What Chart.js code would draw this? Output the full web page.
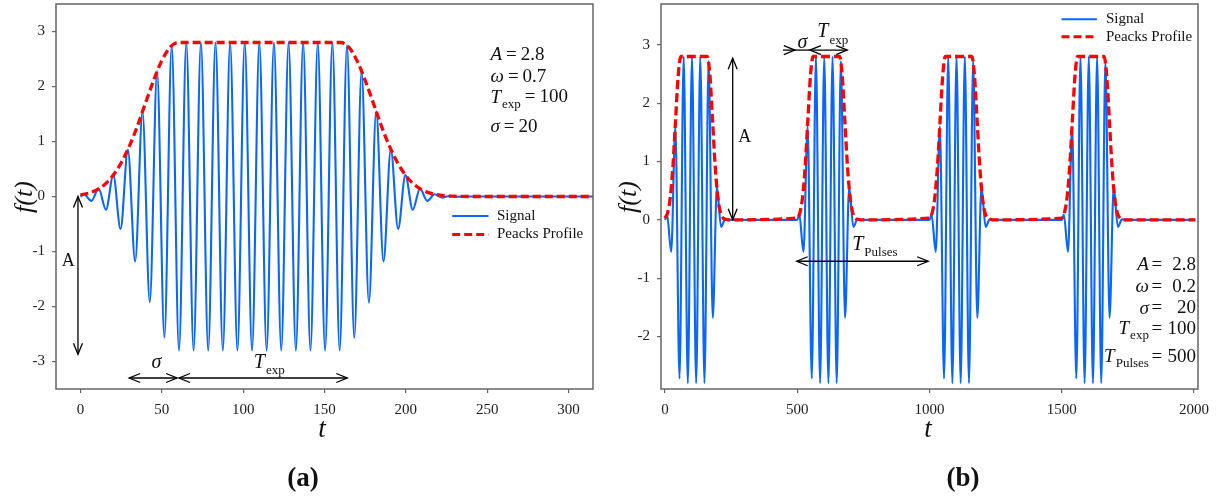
<!DOCTYPE html>
<html>
<head>
<meta charset="utf-8">
<script src="https://cdn.jsdelivr.net/npm/chart.js@4.4.1/dist/chart.umd.min.js"></script>
<style>
  html, body { margin: 0; padding: 0; background: #fff; }
  #wrap { position: relative; width: 1224px; height: 499px; }
  .panel { position: absolute; top: 0; width: 612px; height: 499px; }
</style>
</head>
<body>
<div id="wrap">
  <div class="panel" style="left:0"><canvas id="ca"></canvas></div>
  <div class="panel" style="left:612px"><canvas id="cb"></canvas></div>
</div>
<script>
// ---- panel (a): single pulse, omega = 0.7 (signal read at its peaks/troughs) ----
const sigA_t = [0, 2.24, 6.73, 11.22, 15.71, 20.2, 24.68, 29.17, 33.66, 38.15, 42.64, 47.12, 51.61, 56.1,
  60.59, 65.08, 69.56, 74.05, 78.54, 83.03, 87.52, 92.0, 96.49, 100.98, 105.47, 109.96, 114.44, 118.93,
  123.42, 127.91, 132.4, 136.88, 141.37, 145.86, 150.35, 154.84, 159.32,
  163.81, 168.3, 172.79, 177.28, 181.76, 186.25, 190.74, 195.23, 199.72, 204.2, 208.69, 213.18, 217.67,
  222.16, 226.64, 231.13, 236, 315];
const sigA_y = [0, 0.04, -0.08, 0.14, -0.24, 0.39, -0.59, 0.85, -1.18, 1.54, -1.92, 2.28, -2.56, 2.75,
  -2.8, 2.8, -2.8, 2.8, -2.8, 2.8, -2.8, 2.8, -2.8, 2.8, -2.8, 2.8, -2.8, 2.8,
  -2.8, 2.8, -2.8, 2.8, -2.8, 2.8, -2.8, 2.8, -2.8,
  2.75, -2.57, 2.28, -1.93, 1.55, -1.18, 0.86, -0.59, 0.39, -0.24, 0.14, -0.08, 0.04,
  -0.02, 0.01, -0.005, 0, 0];
const envA_t = [0, 5, 10, 15, 20, 25, 30, 35, 40, 45, 50, 55, 60, 160, 165, 170, 175, 180, 185, 190,
  195, 200, 205, 210, 215, 220, 225, 230, 240, 315];
const envA_y = [0.03, 0.06, 0.12, 0.22, 0.38, 0.61, 0.91, 1.28, 1.70, 2.11, 2.47, 2.71, 2.8, 2.8, 2.71,
  2.47, 2.11, 1.70, 1.28, 0.91, 0.61, 0.38, 0.22, 0.12, 0.06, 0.03, 0.01, 0.005, 0, 0];
const xTicksA = [0, 50, 100, 150, 200, 250, 300];
const yTicksA = [-3, -2, -1, 0, 1, 2, 3];
const paramsA = [['A', '', '2.8'], ['\u03c9', '', '0.7'], ['T', 'exp', '100'], ['\u03c3', '', '20']];

// ---- panel (b): pulse train, omega = 0.2, one pulse every 500 ----
const pulseStarts = [0, 500, 1000, 1500];
const pulseTau = [0, 7.85, 23.56, 39.27, 54.98, 70.69, 86.39, 102.1, 117.81, 133.52, 149.23, 164.93,
  180.64, 196.35, 212.06, 227.77, 240];
const pulseSig = [0, 0.09, -0.55, 1.6, -2.72, 2.8, -2.8, 2.8, -2.8, 2.8, -2.8, 2.72, -1.68, 0.56,
  -0.12, 0.01, 0];
const pulseEnvTau = [0, 10, 20, 30, 40, 50, 60, 160, 170, 180, 190, 200, 210, 220, 230, 240];
const pulseEnv = [0.03, 0.12, 0.38, 0.91, 1.70, 2.47, 2.8, 2.8, 2.47, 1.70, 0.91, 0.38, 0.12, 0.03, 0.01, 0];
const tailB = 2005;
const xTicksB = [0, 500, 1000, 1500, 2000];
const yTicksB = [-2, -1, 0, 1, 2, 3];
const paramsB = [['A', '', '2.8'], ['\u03c9', '', '0.2'], ['\u03c3', '', '20'], ['T', 'exp', '100'],
  ['T', 'Pulses', '500']];

const SERIF = '"Liberation Serif", "Times New Roman", serif';
const BLUE = '#0a66ff';
const RED = '#ff0000';
const FRAME = '#666';

function pts(xs, ys) {
  return xs.map((x, i) => ({ x: x, y: ys[i] }));
}

function pulseTrain(starts, tau, vals, tail) {
  const out = [];
  starts.forEach(s => tau.forEach((t, i) => out.push({ x: s + t, y: vals[i] })));
  out.push({ x: tail, y: 0 });
  return out;
}

function txt(ctx, s, x, y, size, o) {
  o = o || {};
  ctx.save();
  ctx.font = (o.style || '') + ' ' + size + 'px ' + SERIF;
  ctx.fillStyle = '#111';
  ctx.textAlign = o.align || 'left';
  ctx.textBaseline = o.base || 'middle';
  ctx.fillText(s, x, y);
  const w = ctx.measureText(s).width;
  ctx.restore();
  return w;
}

function head(ctx, tx, ty, dx, dy) {
  const L = 11, H = 4.5;
  const bx = tx - dx * L, by = ty - dy * L;
  ctx.beginPath();
  ctx.moveTo(bx - dy * H, by + dx * H);
  ctx.lineTo(tx, ty);
  ctx.lineTo(bx + dy * H, by - dx * H);
  ctx.stroke();
}

function arrow(ctx, x1, y1, x2, y2, h1, h2) {
  const len = Math.hypot(x2 - x1, y2 - y1);
  const ux = (x2 - x1) / len, uy = (y2 - y1) / len;
  ctx.beginPath();
  ctx.moveTo(x1, y1);
  ctx.lineTo(x2, y2);
  ctx.stroke();
  if (h1) head(ctx, x1, y1, -ux, -uy);
  if (h2) head(ctx, x2, y2, ux, uy);
}

function legend(ctx, x1, x2, xt, y1, y2) {
  ctx.save();
  ctx.lineWidth = 2;
  ctx.strokeStyle = BLUE;
  ctx.beginPath(); ctx.moveTo(x1, y1); ctx.lineTo(x2, y1); ctx.stroke();
  ctx.lineWidth = 3;
  ctx.strokeStyle = RED;
  ctx.setLineDash([8, 4]);
  ctx.beginPath(); ctx.moveTo(x1, y2); ctx.lineTo(x2, y2); ctx.stroke();
  ctx.restore();
  txt(ctx, 'Signal', xt, y1, 15);
  txt(ctx, 'Peacks Profile', xt, y2, 15);
}

function frame(chart) {
  const { ctx, chartArea: a } = chart;
  ctx.save();
  ctx.strokeStyle = FRAME;
  ctx.lineWidth = 1.5;
  ctx.strokeRect(a.left, a.top, a.right - a.left, a.bottom - a.top);
  ctx.restore();
}

function titles(chart, fx, tx, label, lx) {
  const ctx = chart.ctx;
  ctx.save();
  ctx.translate(fx, 197);
  ctx.rotate(-Math.PI / 2);
  txt(ctx, 'f(t)', 0, 0, 26, { style: 'italic', align: 'center' });
  ctx.restore();
  txt(ctx, 't', tx, 437, 27, { style: 'italic', align: 'center', base: 'alphabetic' });
  txt(ctx, label, lx, 486, 27, { style: 'bold', align: 'center', base: 'alphabetic' });
}

function drawA(chart) {
  const { ctx, scales: { x, y } } = chart;
  const X = v => x.getPixelForValue(v), Y = v => y.getPixelForValue(v);
  frame(chart);
  ctx.save();
  ctx.strokeStyle = '#000';
  ctx.lineWidth = 1.3;
  arrow(ctx, X(-1.5), Y(0), X(-1.5), Y(-2.87), true, true);
  arrow(ctx, X(30), Y(-3.3), X(59.4), Y(-3.3), true, true);
  arrow(ctx, X(60.6), Y(-3.3), X(164), Y(-3.3), true, true);
  ctx.restore();
  txt(ctx, 'A', X(-7.4), Y(-1.18), 18, { align: 'center' });
  txt(ctx, '\u03c3', X(46.7), Y(-3.02), 20, { style: 'italic', align: 'center' });
  const tw = txt(ctx, 'T', X(110), Y(-3.02), 20, { style: 'italic', align: 'center' });
  txt(ctx, 'exp', X(110) + tw / 2 + 1, Y(-3.02) + 8, 13);

  const rowsY = [2.58, 2.18, 1.8, 1.27];
  paramsA.forEach((r, i) => {
    let cx = X(252);
    const yy = Y(rowsY[i]);
    cx += txt(ctx, r[0], cx, yy, 19, { style: 'italic' });
    if (r[1]) { cx += 1; cx += txt(ctx, r[1], cx, yy + 7, 13); }
    cx += 4;
    cx += txt(ctx, '=', cx, yy, 19);
    cx += 4;
    txt(ctx, r[2], cx, yy, 19);
  });

  legend(ctx, X(228.5), X(250.8), X(256), Y(-0.355), Y(-0.69));
  titles(chart, 25, 322, '(a)', 303);
}

function drawB(chart) {
  const { ctx, scales: { x, y } } = chart;
  const X = v => x.getPixelForValue(v), Y = v => y.getPixelForValue(v);
  frame(chart);
  ctx.save();
  ctx.strokeStyle = '#000';
  ctx.lineWidth = 1.3;
  arrow(ctx, X(256), Y(2.77), X(256), Y(0), true, true);
  arrow(ctx, X(446), Y(2.91), X(491), Y(2.91), false, true);
  arrow(ctx, X(491), Y(2.91), X(548), Y(2.91), false, false);
  arrow(ctx, X(548), Y(2.91), X(689), Y(2.91), true, true);
  arrow(ctx, X(498), Y(-0.71), X(995), Y(-0.71), true, true);
  ctx.restore();
  txt(ctx, 'A', X(302), Y(1.42), 18, { align: 'center' });
  txt(ctx, '\u03c3', X(520), Y(3.03), 20, { style: 'italic', align: 'center' });
  let tw = txt(ctx, 'T', X(597), Y(3.22), 20, { style: 'italic', align: 'center' });
  txt(ctx, 'exp', X(597) + tw / 2 + 1, Y(3.22) + 9, 13);
  tw = txt(ctx, 'T', X(729), Y(-0.43), 20, { style: 'italic', align: 'center' });
  txt(ctx, 'Pulses', X(729) + tw / 2 + 1, Y(-0.43) + 8, 13);

  const R = X(2007);
  const rowsY = [-0.77, -1.15, -1.52, -1.87, -2.35];
  paramsB.forEach((r, i) => {
    const yy = Y(rowsY[i]);
    txt(ctx, r[2], R, yy, 19, { align: 'right' });
    txt(ctx, '=', R - 39, yy, 19, { align: 'center' });
    let cx = R - 47;
    if (r[1]) { cx -= txt(ctx, r[1], cx, yy + 7, 13, { align: 'right' }); cx -= 1; }
    txt(ctx, r[0], cx, yy, 19, { style: 'italic', align: 'right' });
  });

  legend(ctx, X(1499), X(1633), X(1667), Y(3.44), Y(3.14));
  titles(chart, 17, 316, '(b)', 351);
}

function axis(min, max, ticks, fitKey, fitVal) {
  return {
    type: 'linear',
    min: min,
    max: max,
    afterBuildTicks: s => { s.ticks = ticks.map(v => ({ value: v })); },
    afterFit: s => {
      s[fitKey] = fitVal;
      s.paddingTop = 0; s.paddingBottom = 0; s.paddingLeft = 0; s.paddingRight = 0;
    },
    grid: { drawOnChartArea: false, drawTicks: true, tickLength: 4, color: FRAME, lineWidth: 1.2 },
    border: { display: false },
    ticks: {
      font: { family: SERIF, size: 15 },
      color: '#222',
      padding: fitKey === 'height' ? 8 : 7,
      maxRotation: 0,
      autoSkip: false,
      callback: v => String(v)
    }
  };
}

function makeChart(id, sig, env, xr, yr, xt, yt, yWidth, padRight, dash, draw) {
  return new Chart(document.getElementById(id), {
    type: 'line',
    data: {
      datasets: [
        { label: 'Peacks Profile', data: env, borderColor: RED, borderWidth: 3.3, borderDash: dash,
          pointRadius: 0, cubicInterpolationMode: 'monotone', fill: false },
        { label: 'Signal', data: sig, borderColor: BLUE, borderWidth: 2.1,
          pointRadius: 0, cubicInterpolationMode: 'monotone', fill: false }
      ]
    },
    options: {
      responsive: true,
      maintainAspectRatio: false,
      animation: false,
      layout: { autoPadding: false, padding: { left: 0, right: padRight, top: 4, bottom: 0 } },
      plugins: { legend: { display: false }, tooltip: { enabled: false } },
      scales: {
        x: axis(xr[0], xr[1], xt, 'height', 110),
        y: axis(yr[0], yr[1], yt, 'width', yWidth)
      }
    },
    plugins: [{ id: 'notes' + id, afterDraw: draw }]
  });
}

makeChart('ca', pts(sigA_t, sigA_y), pts(envA_t, envA_y), [-15, 315], [-3.5, 3.5],
  xTicksA, yTicksA, 56, 19, [8, 4], drawA);
makeChart('cb', pulseTrain(pulseStarts, pulseTau, pulseSig, tailB),
  pulseTrain(pulseStarts, pulseEnvTau, pulseEnv, tailB), [-15, 2015], [-2.9, 3.7],
  xTicksB, yTicksB, 49, 26, [9, 4], drawB);
</script>
</body>
</html>
